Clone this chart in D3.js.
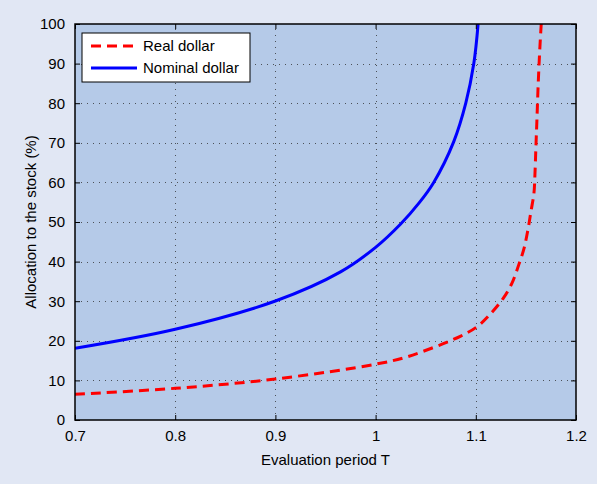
<!DOCTYPE html>
<html>
<head>
<meta charset="utf-8">
<script src="https://cdn.jsdelivr.net/npm/d3@7"></script>
<style>
  body { margin: 0; background: #e1e7f4; }
  svg { display: block; font-family: "Liberation Sans", Arial, sans-serif; }
</style>
</head>
<body>
<svg id="chart"></svg>
<script>
var width = 597;
var height = 484;
var margin = { top: 24, right: 21, bottom: 64, left: 75 };

// values
var realT =     [0.7, 0.8, 0.9, 1.0, 1.032, 1.085, 1.102, 1.115, 1.127, 1.136, 1.143, 1.148, 1.152, 1.155, 1.158, 1.159, 1.160, 1.161, 1.1623, 1.164, 1.1653];
var realAlloc = [6.5, 8.0, 10.35, 14.1, 16.0, 21.2, 23.7, 26.9, 30.6, 34.5, 39.3, 43.2, 48, 52.6, 57.2, 61.9, 69, 75.8, 85, 94.3, 100];

var nomT =     [0.7, 0.8, 0.9, 0.965, 1.0, 1.025, 1.043, 1.058, 1.078, 1.09, 1.098, 1.1023];
var nomAlloc = [18.1, 22.9, 30.05, 37.4, 43.6, 49.5, 54.7, 60, 70.3, 80, 90, 100];

var xTicks = [0.7, 0.8, 0.9, 1.0, 1.1, 1.2];
var xTickLabels = ["0.7", "0.8", "0.9", "1", "1.1", "1.2"];
var yTicks = [0, 10, 20, 30, 40, 50, 60, 70, 80, 90, 100];

var seriesNames = ["Real dollar", "Nominal dollar"];

var xScale = d3.scaleLinear().domain([0.7, 1.2]).range([margin.left, width - margin.right]);
var yScale = d3.scaleLinear().domain([0, 100]).range([height - margin.bottom, margin.top]);

var svg = d3.select("#chart")
            .attr("width", width)
            .attr("height", height);

// plot background
svg.append("rect")
    .attr("x", xScale(0.7))
    .attr("y", yScale(100))
    .attr("width", xScale(1.2) - xScale(0.7))
    .attr("height", yScale(0) - yScale(100))
    .attr("fill", "#b5cae8");

// dotted grid
var grid = svg.append("g")
    .attr("stroke", "#333")
    .attr("stroke-width", 1)
    .attr("stroke-dasharray", "1,5")
    .attr("opacity", 0.8);

grid.selectAll(".gx")
  .data(xTicks.slice(1, -1))
  .enter().append("line")
    .attr("x1", function(d) { return Math.round(xScale(d)) + 0.5; })
    .attr("x2", function(d) { return Math.round(xScale(d)) + 0.5; })
    .attr("y1", yScale(0))
    .attr("y2", yScale(100));

grid.selectAll(".gy")
  .data(yTicks.slice(1, -1))
  .enter().append("line")
    .attr("y1", function(d) { return Math.round(yScale(d)) + 0.5; })
    .attr("y2", function(d) { return Math.round(yScale(d)) + 0.5; })
    .attr("x1", xScale(0.7))
    .attr("x2", xScale(1.2));

// lines
var line = d3.line()
    .x(function(d) { return xScale(d[0]); })
    .y(function(d) { return yScale(d[1]); })
    .curve(d3.curveCatmullRom.alpha(0.5));

svg.append("clipPath").attr("id", "clip")
  .append("rect")
    .attr("x", xScale(0.7))
    .attr("y", yScale(100))
    .attr("width", xScale(1.2) - xScale(0.7))
    .attr("height", yScale(0) - yScale(100));

svg.append("path")
    .datum(realT.map(function(t, i) { return [t, realAlloc[i]]; }))
    .attr("clip-path", "url(#clip)")
    .attr("d", line)
    .attr("fill", "none")
    .attr("stroke", "#ff0000")
    .attr("stroke-width", 3)
    .attr("stroke-dasharray", "10,6");

svg.append("path")
    .datum(nomT.map(function(t, i) { return [t, nomAlloc[i]]; }))
    .attr("clip-path", "url(#clip)")
    .attr("d", line)
    .attr("fill", "none")
    .attr("stroke", "#0000ff")
    .attr("stroke-width", 3);

// axes (ticks pointing inward, mirrored on top/right)
var tickLen = 5;
function styleAxis(g) {
  g.select(".domain").remove();
  g.selectAll(".tick line").attr("stroke", "#000").attr("stroke-width", 1);
  g.selectAll("text").attr("fill", "#000").style("font-size", "15px");
}

svg.append("g")
    .attr("transform", "translate(0," + yScale(0) + ")")
    .call(d3.axisBottom(xScale).tickValues(xTicks)
      .tickFormat(function(d, i) { return xTickLabels[i]; })
      .tickSizeInner(-tickLen).tickPadding(10))
    .call(styleAxis);

svg.append("g")
    .attr("transform", "translate(0," + yScale(100) + ")")
    .call(d3.axisTop(xScale).tickValues(xTicks).tickSizeInner(-tickLen).tickFormat(""))
    .call(styleAxis);

svg.append("g")
    .attr("transform", "translate(" + xScale(0.7) + ",0)")
    .call(d3.axisLeft(yScale).tickValues(yTicks).tickSizeInner(-tickLen).tickPadding(10))
    .call(styleAxis);

svg.append("g")
    .attr("transform", "translate(" + xScale(1.2) + ",0)")
    .call(d3.axisRight(yScale).tickValues(yTicks).tickSizeInner(-tickLen).tickFormat(""))
    .call(styleAxis);

// box
svg.append("rect")
    .attr("x", xScale(0.7))
    .attr("y", yScale(100))
    .attr("width", xScale(1.2) - xScale(0.7))
    .attr("height", yScale(0) - yScale(100))
    .attr("fill", "none")
    .attr("stroke", "#000")
    .attr("stroke-width", 1.5);

// axis labels
svg.append("text")
    .attr("x", (xScale(0.7) + xScale(1.2)) / 2)
    .attr("y", 465)
    .attr("text-anchor", "middle")
    .style("font-size", "15px")
    .text("Evaluation period T");

svg.append("text")
    .attr("transform", "rotate(-90)")
    .attr("x", -(yScale(0) + yScale(100)) / 2)
    .attr("y", 36)
    .attr("text-anchor", "middle")
    .style("font-size", "15px")
    .text("Allocation to the stock (%)");

// legend
var legend = svg.append("g").attr("transform", "translate(82,33)");
legend.append("rect")
    .attr("width", 168)
    .attr("height", 49)
    .attr("fill", "#fff")
    .attr("stroke", "#000")
    .attr("stroke-width", 1);

var legendStyles = [
  { color: "#ff0000", dash: "10,6" },
  { color: "#0000ff", dash: null }
];

seriesNames.forEach(function(name, i) {
  var y = 13 + i * 22;
  legend.append("line")
      .attr("x1", 9).attr("x2", 55)
      .attr("y1", y).attr("y2", y)
      .attr("stroke", legendStyles[i].color)
      .attr("stroke-width", 3)
      .attr("stroke-dasharray", legendStyles[i].dash);
  legend.append("text")
      .attr("x", 61)
      .attr("y", y + 5)
      .style("font-size", "15px")
      .text(name);
});
</script>
</body>
</html>
